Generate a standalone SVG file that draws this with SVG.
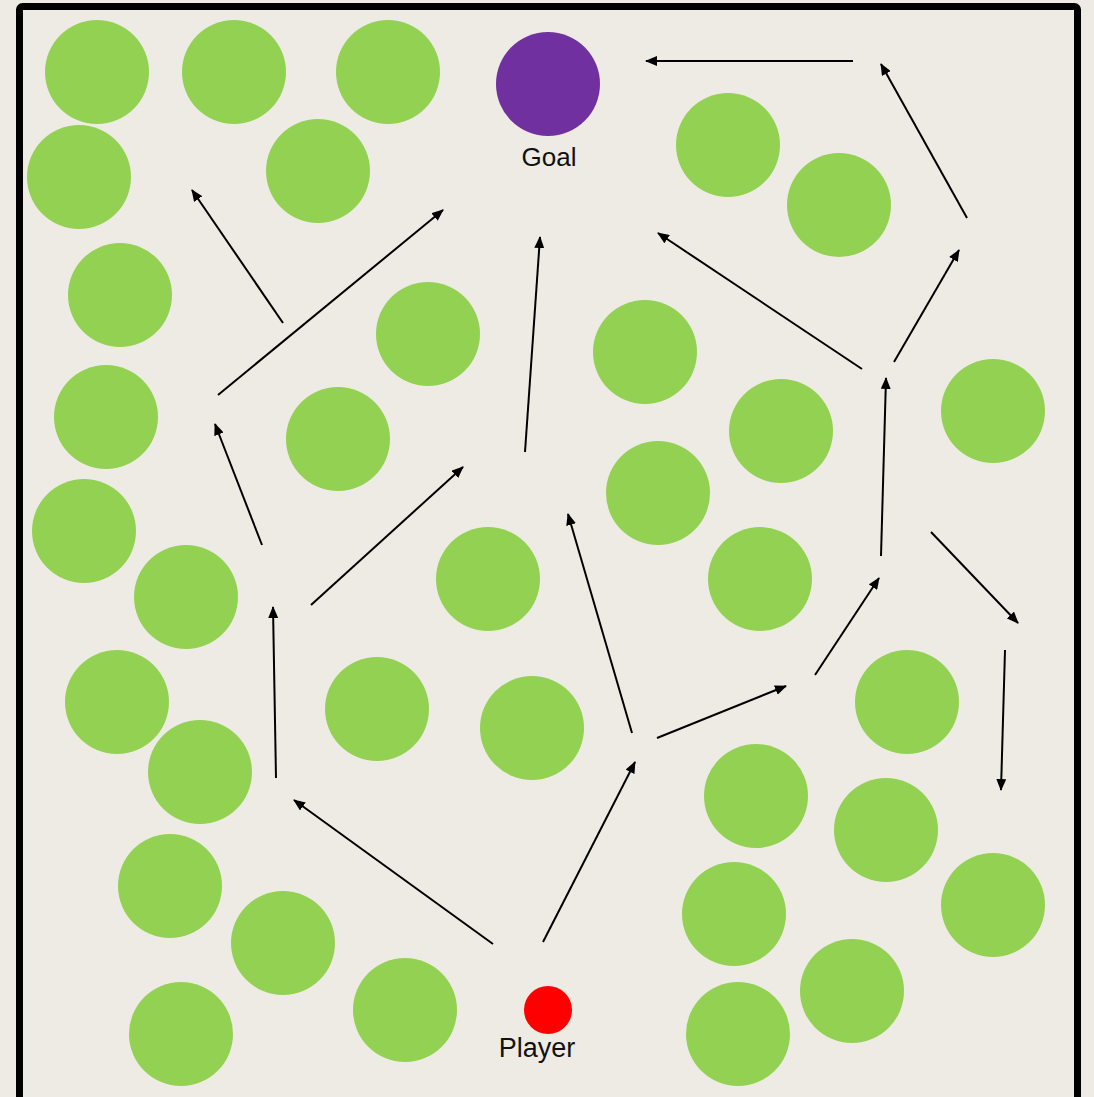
<svg xmlns="http://www.w3.org/2000/svg" width="1094" height="1097" viewBox="0 0 1094 1097">
<style>
.obs{fill:#93D152}
.lbl{font-family:"Liberation Sans",Arial,sans-serif;font-size:26px;fill:#111;text-anchor:middle}
.conn line{stroke:#000;stroke-width:2;marker-end:url(#ah)}
</style>
<defs>
<marker id="ah" viewBox="0 0 12 10" refX="11" refY="5" markerWidth="12" markerHeight="10" markerUnits="userSpaceOnUse" orient="auto">
<path d="M0,0 L12,5 L0,10 Z" fill="#000"/>
</marker>
</defs>
<rect width="1094" height="1097" fill="#EEEBE4"/>
<rect x="19.5" y="6.5" width="1058" height="1094" rx="3" fill="#EEEBE4" stroke="#000" stroke-width="7"/>
<g id="obstacles">
<circle id="o1" class="obs" cx="97" cy="72" r="52"/>
<circle id="o2" class="obs" cx="234" cy="72" r="52"/>
<circle id="o3" class="obs" cx="388" cy="72" r="52"/>
<circle id="o4" class="obs" cx="79" cy="177" r="52"/>
<circle id="o5" class="obs" cx="318" cy="171" r="52"/>
<circle id="o6" class="obs" cx="120" cy="295" r="52"/>
<circle id="o7" class="obs" cx="428" cy="334" r="52"/>
<circle id="o8" class="obs" cx="106" cy="417" r="52"/>
<circle id="o9" class="obs" cx="338" cy="439" r="52"/>
<circle id="o10" class="obs" cx="84" cy="531" r="52"/>
<circle id="o11" class="obs" cx="186" cy="597" r="52"/>
<circle id="o12" class="obs" cx="488" cy="579" r="52"/>
<circle id="o13" class="obs" cx="117" cy="702" r="52"/>
<circle id="o14" class="obs" cx="377" cy="709" r="52"/>
<circle id="o15" class="obs" cx="532" cy="728" r="52"/>
<circle id="o16" class="obs" cx="200" cy="772" r="52"/>
<circle id="o17" class="obs" cx="170" cy="886" r="52"/>
<circle id="o18" class="obs" cx="283" cy="943" r="52"/>
<circle id="o19" class="obs" cx="181" cy="1034" r="52"/>
<circle id="o20" class="obs" cx="405" cy="1010" r="52"/>
<circle id="o21" class="obs" cx="728" cy="145" r="52"/>
<circle id="o22" class="obs" cx="839" cy="205" r="52"/>
<circle id="o23" class="obs" cx="645" cy="352" r="52"/>
<circle id="o24" class="obs" cx="781" cy="431" r="52"/>
<circle id="o25" class="obs" cx="993" cy="411" r="52"/>
<circle id="o26" class="obs" cx="658" cy="493" r="52"/>
<circle id="o27" class="obs" cx="760" cy="579" r="52"/>
<circle id="o28" class="obs" cx="907" cy="702" r="52"/>
<circle id="o29" class="obs" cx="756" cy="796" r="52"/>
<circle id="o30" class="obs" cx="886" cy="830" r="52"/>
<circle id="o31" class="obs" cx="734" cy="914" r="52"/>
<circle id="o32" class="obs" cx="993" cy="905" r="52"/>
<circle id="o33" class="obs" cx="852" cy="991" r="52"/>
<circle id="o34" class="obs" cx="738" cy="1034" r="52"/>
</g>
<g id="goal">
<circle cx="548" cy="84" r="52" fill="#7030A0"/>
<text class="lbl" x="549" y="166">Goal</text>
</g>
<g id="player">
<circle cx="548" cy="1010" r="24" fill="#FF0000"/>
<text class="lbl" x="537" y="1057" style="font-size:27px">Player</text>
</g>
<g id="connectors" class="conn">
<line x1="853" y1="61" x2="646" y2="61"/>
<line x1="967" y1="218" x2="881" y2="64"/>
<line x1="894" y1="362" x2="959" y2="250"/>
<line x1="862" y1="369" x2="658" y2="233"/>
<line x1="881" y1="556" x2="886" y2="378"/>
<line x1="815" y1="675" x2="879" y2="578"/>
<line x1="931" y1="532" x2="1018" y2="623"/>
<line x1="1005" y1="650" x2="1001" y2="790"/>
<line x1="657" y1="738" x2="786" y2="686"/>
<line x1="632" y1="733" x2="568" y2="514"/>
<line x1="543" y1="942" x2="635" y2="762"/>
<line x1="493" y1="944" x2="294" y2="800"/>
<line x1="276" y1="778" x2="273" y2="607"/>
<line x1="311" y1="605" x2="463" y2="467"/>
<line x1="262" y1="545" x2="215" y2="424"/>
<line x1="525" y1="452" x2="540" y2="237"/>
<line x1="218" y1="395" x2="443" y2="210"/>
<line x1="283" y1="323" x2="192" y2="190"/>
</g>
</svg>
